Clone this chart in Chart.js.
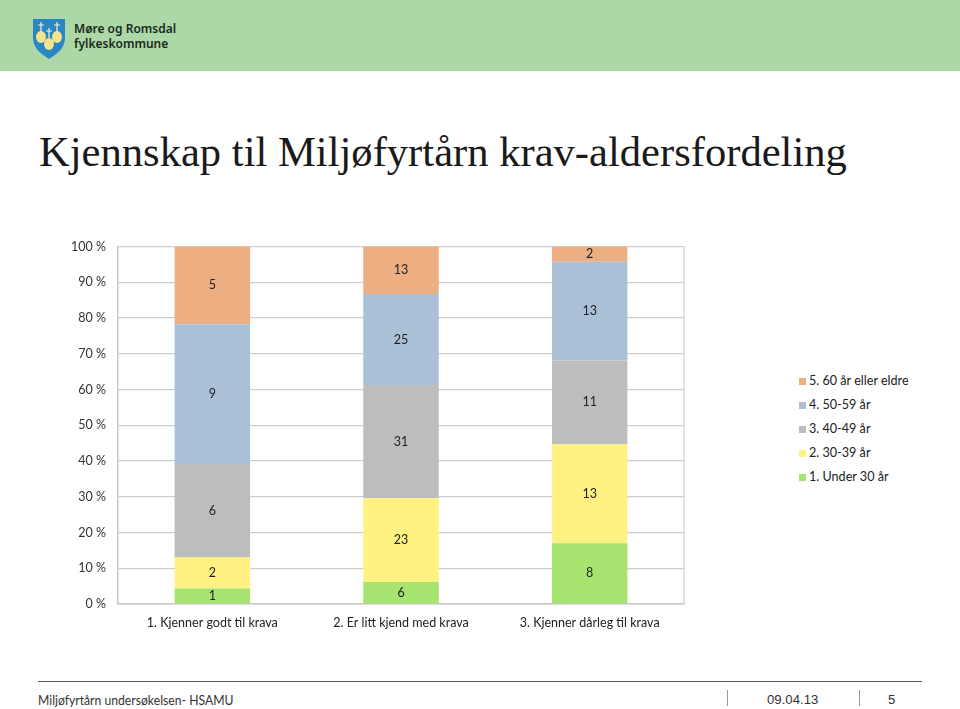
<!DOCTYPE html>
<html lang="no">
<head>
<meta charset="utf-8">
<title>Kjennskap til Miljøfyrtårn krav-aldersfordeling</title>
<script src="https://cdn.jsdelivr.net/npm/chart.js@4"></script>
<style>
    html, body { margin: 0; padding: 0; background: #fff; }
    #page { position: relative; width: 960px; height: 709px; overflow: hidden; }
    #band { position: absolute; left: 0; top: 0; width: 960px; height: 71px; background: #acd7a7; }
    #logo { position: absolute; left: 33px; top: 18px; }
    #brand { position: absolute; left: 74px; top: 21px; font: 600 12px/15px "Noto Sans", sans-serif; color: #1b2a1c; }
    h1 { position: absolute; left: 39px; top: 125px; margin: 0; white-space: nowrap; font: 400 42.6px/54px "Liberation Serif", serif; color: #1a1a1a; }
    #chartWrap { position: absolute; left: 0; top: 227px; width: 700px; height: 413px; }
    #legend { position: absolute; left: 799px; top: 369px; font: 12.6px/24px Lato, sans-serif; color: #222; }
    .legend-item { display: flex; align-items: center; height: 24px; }
    .legend-swatch { width: 7px; height: 7px; margin-right: 3px; }
    #rule { position: absolute; left: 38px; top: 681px; width: 884px; height: 1px; background: #555; }
    #source { position: absolute; left: 38px; top: 692px; font: 14px/16px Lato, sans-serif; color: #333; transform: scaleX(0.87); transform-origin: left top; white-space: nowrap; }
    #date { position: absolute; left: 767px; top: 692px; font: 13.2px/16px "Liberation Sans", sans-serif; color: #333; }
    #pageNo { position: absolute; left: 888px; top: 692px; font: 13.2px/16px "Liberation Sans", sans-serif; color: #333; }
    .sep { position: absolute; top: 690px; width: 1px; height: 16px; background: #999; }
</style>
</head>
<body>
<div id="page">
    <div id="band"></div>
    <svg id="logo" width="32" height="42" viewBox="0 0 32 42">
        <path d="M0 1 H32 V20 C32 30 24 36 16 41 C8 36 0 30 0 20 Z" fill="#2a86c4"/>
        <path d="M8 4 V14 M5 7 H11 M24 4 V14 M21 7 H27 M16 10 V20 M13 13 H19" stroke="#f7f2c8" stroke-width="1.2" fill="none"/>
        <ellipse cx="8" cy="19" rx="5" ry="6" fill="#f3e58e"/>
        <ellipse cx="24" cy="19" rx="5" ry="6" fill="#f3e58e"/>
        <ellipse cx="16" cy="26" rx="5" ry="6" fill="#f3e58e"/>
    </svg>
    <div id="brand">Møre og Romsdal<br>fylkeskommune</div>
    <h1>Kjennskap til Miljøfyrtårn krav-aldersfordeling</h1>
    <div id="chartWrap"><canvas id="ageChart" width="700" height="413"></canvas></div>
    <div id="legend"></div>
    <div id="rule"></div>
    <div id="source">Miljøfyrtårn undersøkelsen- HSAMU</div>
    <div class="sep" style="left:727px"></div>
    <div id="date">09.04.13</div>
    <div class="sep" style="left:859px"></div>
    <div id="pageNo">5</div>
</div>
<script>
const categories = ['1. Kjenner godt til krava', '2. Er litt kjend med krava', '3. Kjenner dårleg til krava'];
const under30 = [1, 6, 8];
const age30to39 = [2, 23, 13];
const age40to49 = [6, 31, 11];
const age50to59 = [9, 25, 13];
const age60plus = [5, 13, 2];

const seriesList = [
    { label: '1. Under 30 år', counts: under30, color: '#a6e36f' },
    { label: '2. 30-39 år', counts: age30to39, color: '#fff182' },
    { label: '3. 40-49 år', counts: age40to49, color: '#bdbdbd' },
    { label: '4. 50-59 år', counts: age50to59, color: '#a9c0d7' },
    { label: '5. 60 år eller eldre', counts: age60plus, color: '#edae82' }
];

const totals = categories.map((c, i) => seriesList.reduce((sum, s) => sum + s.counts[i], 0));

// canvas text: draws the answer count in the middle of each segment
const countLabels = {
    id: 'countLabels',
    afterDatasetsDraw(chart) {
        const ctx = chart.ctx;
        ctx.save();
        ctx.font = '12.5px Lato, sans-serif';
        ctx.fillStyle = '#222';
        ctx.textAlign = 'center';
        ctx.textBaseline = 'middle';
        chart.data.datasets.forEach((dataset, d) => {
            chart.getDatasetMeta(d).data.forEach((bar, i) => {
                ctx.fillText(dataset.counts[i], bar.x, (bar.y + bar.base) / 2);
            });
        });
        ctx.restore();
    }
};

new Chart(document.getElementById('ageChart').getContext('2d'), {
    type: 'bar',
    data: {
        labels: categories,
        datasets: seriesList.map((s) => ({
            label: s.label,
            counts: s.counts,
            data: s.counts.map((v, i) => v / totals[i] * 100),
            backgroundColor: s.color,
            borderWidth: 0,
            categoryPercentage: 1,
            barPercentage: 0.4
        }))
    },
    options: {
        responsive: false,
        animation: false,
        layout: { padding: { top: 13, right: 16, left: 0, bottom: 0 } },
        plugins: {
            legend: { display: false },
            tooltip: { enabled: false }
        },
        scales: {
            x: {
                stacked: true,
                grid: { display: false },
                border: { color: '#c8c8c8', width: 1.5 },
                ticks: { color: '#222', font: { family: 'Lato, sans-serif', size: 12.5 }, padding: 3, maxRotation: 0 },
                afterFit: (scale) => { scale.height = 36; }
            },
            y: {
                stacked: true,
                min: 0,
                max: 100,
                grid: { color: '#cfcfcf', lineWidth: 1.2, drawTicks: false },
                border: { color: '#c8c8c8', width: 1.5 },
                ticks: {
                    stepSize: 10,
                    color: '#333',
                    font: { family: 'Lato, sans-serif', size: 12.5 },
                    padding: 12,
                    callback: (value) => value + ' %'
                },
                afterFit: (scale) => { scale.width = 118; }
            }
        }
    },
    plugins: [countLabels, {
        id: 'rightEdge',
        beforeDatasetsDraw(chart) {
            const area = chart.chartArea;
            chart.ctx.save();
            chart.ctx.strokeStyle = '#cfcfcf';
            chart.ctx.lineWidth = 1.2;
            chart.ctx.beginPath();
            chart.ctx.moveTo(area.right, area.top);
            chart.ctx.lineTo(area.right, area.bottom);
            chart.ctx.stroke();
            chart.ctx.restore();
        }
    }]
});

const legendRoot = document.getElementById('legend');
seriesList.slice().reverse().forEach((s) => {
    const item = document.createElement('div');
    item.className = 'legend-item';
    const swatch = document.createElement('div');
    swatch.className = 'legend-swatch';
    swatch.style.backgroundColor = s.color;
    const label = document.createElement('div');
    label.textContent = s.label;
    item.appendChild(swatch);
    item.appendChild(label);
    legendRoot.appendChild(item);
});
</script>
</body>
</html>
